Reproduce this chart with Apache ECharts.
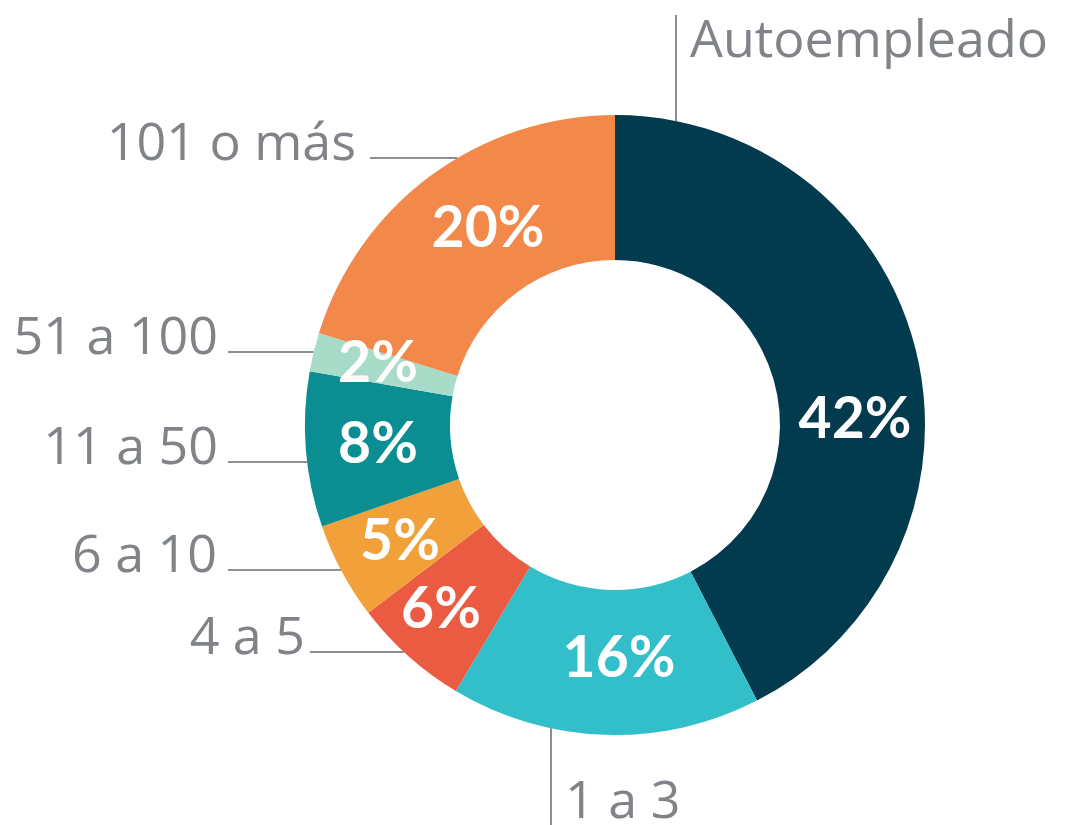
<!DOCTYPE html>
<html>
<head>
<meta charset="utf-8">
<script src="https://cdn.jsdelivr.net/npm/echarts@6/dist/echarts.min.js"></script>
<style>
html,body{margin:0;padding:0;background:#fff;}
#chart{width:1076px;height:825px;}
</style>
</head>
<body>
<div id="chart"></div>
<script>
// ---- data ----
var categories = ['Autoempleado', '1 a 3', '4 a 5', '6 a 10', '11 a 50', '51 a 100', '101 o más'];
var values = [42, 16, 6, 5, 8, 2, 20];
var colors = ['#023a4e', '#33bfc9', '#ea5b42', '#f2a03a', '#0a8e91', '#a8dcc8', '#f2884a'];

// ---- label placement (annotation layout, not marks) ----
var CX = 615, CY = 425, R_IN = 165, R_OUT = 310;
// inner percentage label centres
var innerPos = [[855, 420], [619, 659], [441, 610], [400, 542], [378, 445], [378, 364], [488, 229]];
// outer category labels: type 'v' = vertical leader, 'h' = horizontal leader
var outerLab = [
  {type: 'v', lineX: 676, lineEnd: 15, tx: 690, ty: 42, side: 'top'},
  {type: 'v', lineX: 551, lineEnd: 825, tx: 565, ty: 803, side: 'bottom'},
  {type: 'h', lineY: 652, lineStart: 310, tx: 305},
  {type: 'h', lineY: 570, lineStart: 228, tx: 217},
  {type: 'h', lineY: 462, lineStart: 228, tx: 218},
  {type: 'h', lineY: 352, lineStart: 228, tx: 218},
  {type: 'h', lineY: 158, lineStart: 370, tx: 356}
];

var dataItems = categories.map(function (c, i) {
  return {name: c, value: values[i], itemStyle: {color: colors[i]}};
});
var ghostItems = categories.map(function (c, i) {
  return {name: c, value: values[i]};
});

var chart = echarts.init(document.getElementById('chart'), null, {renderer: 'canvas'});
chart.setOption({
  backgroundColor: '#ffffff',
  animation: false,
  series: [
    {
      type: 'pie',
      center: [CX, CY],
      radius: [R_IN, R_OUT],
      startAngle: 90,
      clockwise: true,
      silent: true,
      itemStyle: {borderWidth: 0},
      label: {
        show: true,
        position: 'inside',
        formatter: '{c}%',
        color: '#ffffff',
        fontFamily: 'Lato',
        fontWeight: 'bold',
        fontSize: 57
      },
      labelLine: {show: false},
      labelLayout: function (p) {
        var pos = innerPos[p.dataIndex];
        return {x: pos[0], y: pos[1], align: 'center', verticalAlign: 'middle'};
      },
      data: dataItems
    },
    {
      type: 'pie',
      center: [CX, CY],
      radius: [R_IN, R_OUT],
      startAngle: 90,
      clockwise: true,
      silent: true,
      itemStyle: {color: 'rgba(0,0,0,0)', borderWidth: 0},
      label: {
        show: true,
        position: 'outside',
        formatter: '{b}',
        color: '#808388',
        fontFamily: 'Open Sans',
        fontWeight: 'normal',
        fontSize: 52,
        overflow: 'none',
        width: 500
      },
      labelLine: {show: true, lineStyle: {color: '#8c8f92', width: 2}},
      labelLayout: function (p) {
        var o = outerLab[p.dataIndex];
        if (o.type === 'v') {
          var dy = Math.sqrt(R_OUT * R_OUT - (o.lineX - CX) * (o.lineX - CX));
          var edgeY = o.side === 'top' ? CY - dy : CY + dy;
          return {
            x: o.tx, y: o.ty, align: 'left', verticalAlign: 'middle',
            labelLinePoints: [[o.lineX, o.lineEnd], [o.lineX, (o.lineEnd + edgeY) / 2], [o.lineX, edgeY]]
          };
        }
        var dx = Math.sqrt(R_OUT * R_OUT - (o.lineY - CY) * (o.lineY - CY));
        var edgeX = CX - dx;
        return {
          x: o.tx, y: o.lineY - 13, align: 'right', verticalAlign: 'middle',
          labelLinePoints: [[o.lineStart, o.lineY], [(o.lineStart + edgeX) / 2, o.lineY], [edgeX, o.lineY]]
        };
      },
      data: ghostItems
    }
  ]
});
</script>
</body>
</html>
